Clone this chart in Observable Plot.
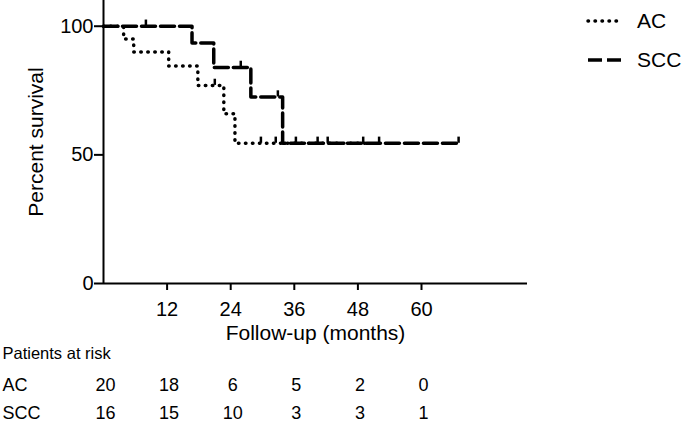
<!DOCTYPE html>
<html><head><meta charset="utf-8">
<script src="https://cdn.jsdelivr.net/npm/d3@7"></script>
<script src="https://cdn.jsdelivr.net/npm/@observablehq/plot@0.6"></script>
<style>
body{margin:0;background:#fff;font-family:"Liberation Sans",Arial,sans-serif}
#chart svg{display:block}
</style>
</head><body><div id="chart"></div>
<script>
// ---- data ----
const groups = ["AC", "SCC"];
const acTime = [0, 3.8, 5.7, 12.3, 17.8, 22.7, 24.8, 50];
const acSurv = [100, 95, 90, 84.5, 77, 66, 54.5, 54.5];
const sccTime = [0, 16.7, 20.8, 27.8, 33.8, 67];
const sccSurv = [100, 93.5, 84, 72.5, 54.5, 54.5];
const acCensorTime = [21, 29.7, 32.5];
const acCensorSurv = [77, 54.5, 54.5];
const sccCensorTime = [8, 25.9, 32.9, 36.3, 40.4, 42.3, 49, 52, 67];
const sccCensorSurv = [100, 84, 72.5, 54.5, 54.5, 54.5, 54.5, 54.5, 54.5];
const xTicks = [12, 24, 36, 48, 60];
const yTicks = [0, 50, 100];
const riskTimes = [0, 12, 24, 36, 48, 60];
const acRisk = [20, 18, 6, 5, 2, 0];
const sccRisk = [16, 15, 10, 3, 3, 1];
const xLabel = "Follow-up (months)";
const yLabel = "Percent survival";
const tableTitle = "Patients at risk";

const FONT = '"Liberation Sans", Arial, sans-serif';
const rows = (g, t, s) => t.map((x, i) => ({group: g, t: x, s: s[i]}));
const acRows = rows("AC", acTime, acSurv);
const sccRows = rows("SCC", sccTime, sccSurv);
const censor = rows("AC", acCensorTime, acCensorSurv).concat(rows("SCC", sccCensorTime, sccCensorSurv));
const dotted = "0.5,6.5", dashed = "14,5";

const main = Plot.plot({
  width: 685, height: 345,
  marginLeft: 103, marginRight: 158, marginTop: 0, marginBottom: 62,
  style: {fontFamily: FONT, fontSize: "20px", color: "#000", background: "#fff"},
  x: {domain: [0, 80]},
  y: {domain: [0, 110]},
  marks: [
    Plot.axisX({ticks: xTicks, tickSize: 7, tickPadding: 11, label: null, strokeWidth: 2, fontSize: 20}),
    Plot.axisY({ticks: yTicks, tickSize: 9, tickPadding: 1, label: null, strokeWidth: 2, fontSize: 20}),
    Plot.ruleX([0], {strokeWidth: 2}),
    Plot.ruleY([0], {strokeWidth: 2}),
    Plot.line(acRows, {x: "t", y: "s", curve: "step-after", strokeWidth: 3.5, strokeDasharray: dotted, strokeLinecap: "round"}),
    Plot.line(sccRows, {x: "t", y: "s", curve: "step-after", strokeWidth: 3.5, strokeDasharray: dashed}),
    Plot.ruleX(censor, {x: "t", y1: "s", y2: d => d.s + 2.4, strokeWidth: 2.5}),
    Plot.text([yLabel], {text: d => d, frameAnchor: "left", dx: -67, rotate: -90, textAnchor: "middle", fontSize: 21}),
    Plot.text([xLabel], {text: d => d, frameAnchor: "bottom", dy: 56, fontSize: 21})
  ]
});

// legend
const lg = d3.select(main).append("g").attr("text-anchor", "start");
const legendItems = [
  {label: "AC", dash: dotted, cap: "round", y: 21},
  {label: "SCC", dash: dashed, cap: "butt", y: 60}
];
legendItems.forEach(it => {
  lg.append("line").attr("x1", 588).attr("x2", 622).attr("y1", it.y).attr("y2", it.y)
    .attr("stroke", "#000").attr("stroke-width", 3.5)
    .attr("stroke-dasharray", it.dash).attr("stroke-linecap", it.cap);
  lg.append("text").attr("x", 637).attr("y", it.y + 7).attr("font-size", 21)
    .attr("text-anchor", "start")
    .attr("font-family", FONT).attr("fill", "#000").text(it.label);
});

const riskRows = rows("AC", riskTimes, acRisk).map((d, i) => ({...d, n: acRisk[i]}))
  .concat(rows("SCC", riskTimes, sccRisk).map((d, i) => ({...d, n: sccRisk[i]})));

const table = Plot.plot({
  width: 685, height: 78,
  marginLeft: 103, marginRight: 158, marginTop: 0, marginBottom: 0,
  style: {fontFamily: FONT, fontSize: "18px", color: "#000", background: "#fff", overflow: "visible"},
  x: {domain: [0, 80], axis: null},
  y: {type: "point", domain: groups, range: [40, 68], padding: 0, axis: null},
  marks: [
    Plot.text(riskRows, {x: "t", y: "group", text: d => String(d.n), dx: 2, fontSize: 18}),
    Plot.text(groups, {y: d => d, text: d => d, frameAnchor: "left", dx: -101, textAnchor: "start", fontSize: 18}),
    Plot.text([tableTitle], {text: d => d, frameAnchor: "top-left", dx: -101, dy: 2, lineAnchor: "top", textAnchor: "start", fontSize: 16.5})
  ]
});

document.getElementById("chart").append(main, table);
</script>
</body></html>
